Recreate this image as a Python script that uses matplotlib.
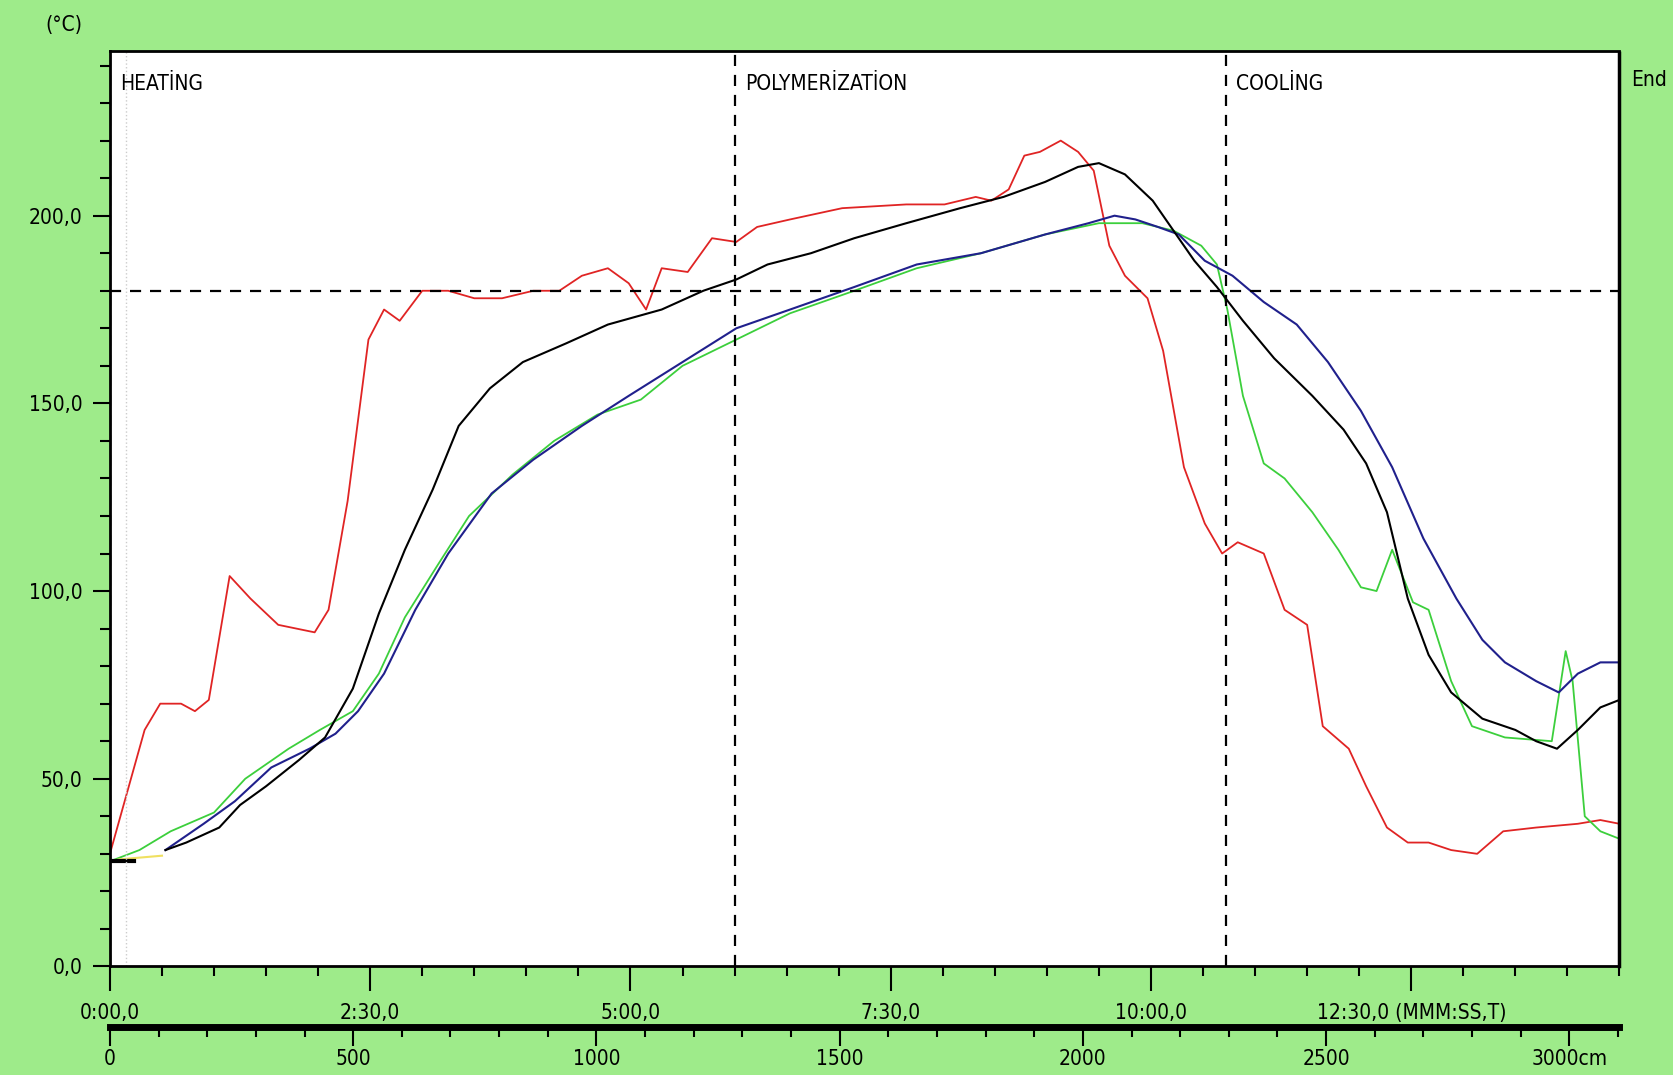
import matplotlib
matplotlib.use("Agg")
import matplotlib.pyplot as plt
from matplotlib.ticker import MultipleLocator, FixedLocator

plt.rcParams['font.family'] = ['Liberation Sans Narrow', 'DejaVu Sans']
plt.rcParams['font.stretch'] = 'condensed'

# time in seconds, temperature in deg C
red_t = [0, 20, 29, 41, 49, 57, 69, 81, 97, 118, 126, 137, 149, 158, 167, 180, 195, 210,
         226, 244, 259, 272, 287, 299, 309, 318, 333, 347, 361, 373, 392, 422, 459, 481,
         499, 508, 518, 527, 536, 548, 558, 567, 576, 585, 598, 607, 619, 631, 641, 650,
         665, 677, 690, 699, 714, 724, 736, 748, 760, 773, 788, 803, 822, 846, 859, 870]
red_T = [30, 63, 70, 70, 68, 71, 104, 98, 91, 89, 95, 124, 167, 175, 172, 180, 180, 178,
         178, 180, 180, 184, 186, 182, 175, 186, 185, 194, 193, 197, 199, 202, 203, 203,
         205, 204, 207, 216, 217, 220, 217, 212, 192, 184, 178, 164, 133, 118, 110, 113,
         110, 95, 91, 64, 58, 48, 37, 33, 33, 31, 30, 36, 37, 38, 39, 38]

black_t = [32, 44, 63, 75, 90, 109, 124, 140, 155, 170, 186, 201, 219, 238, 263, 287, 318,
           342, 361, 379, 404, 429, 459, 490, 515, 539, 558, 570, 585, 601, 613, 625, 638,
           653, 671, 693, 711, 724, 736, 748, 760, 773, 791, 810, 822, 834, 846, 859, 870]
black_T = [31, 33, 37, 43, 48, 55, 61, 74, 94, 111, 127, 144, 154, 161, 166, 171, 175,
           180, 183, 187, 190, 194, 198, 202, 205, 209, 213, 214, 211, 204, 196, 188, 181,
           172, 162, 152, 143, 134, 121, 98, 83, 73, 66, 63, 60, 58, 63, 69, 71]

blue_t = [32, 54, 72, 93, 115, 130, 143, 158, 176, 195, 220, 244, 272, 299, 330, 361, 392,
          429, 465, 502, 539, 564, 579, 591, 604, 616, 631, 647, 665, 684, 702, 721, 739,
          757, 776, 791, 804, 822, 835, 846, 859, 870]
blue_T = [31, 38, 44, 53, 58, 62, 68, 78, 95, 110, 126, 135, 144, 152, 161, 170, 175,
          181, 187, 190, 195, 198, 200, 199, 197, 195, 188, 184, 177, 171, 161, 148, 133,
          114, 98, 87, 81, 76, 73, 78, 81, 81]

green_t = [0, 17, 35, 60, 78, 103, 121, 140, 155, 170, 189, 207, 232, 256, 281, 306, 330,
           361, 392, 429, 465, 502, 539, 570, 595, 613, 629, 638, 644, 653, 665, 677, 693,
           708, 721, 730, 739, 751, 760, 773, 785, 804, 831, 839, 843, 850, 859, 870]
green_T = [28, 31, 36, 41, 50, 58, 63, 68, 78, 93, 107, 120, 131, 140, 147, 151, 160,
           167, 174, 180, 186, 190, 195, 198, 198, 196, 192, 187, 175, 152, 134, 130, 121,
           111, 101, 100, 111, 97, 95, 76, 64, 61, 60, 84, 76, 40, 36, 34]

start_t = [2, 14]
start_T = [28, 28]
yellow_t = [5, 30]
yellow_T = [28.5, 29.5]

phase_t = [0, 360, 643]
phase_names = ['HEATİNG', 'POLYMERİZATİON', 'COOLİNG']
set_T = 180

time_ticks = [0, 150, 300, 450, 600, 750]
time_labels = ['0:00,0', '2:30,0', '5:00,0', '7:30,0', '10:00,0', '12:30,0 (MMM:SS,T)']
y_ticks = [0, 50, 100, 150, 200]
y_labels = ['0,0', '50,0', '100,0', '150,0', '200,0']
dist_ticks = [0, 500, 1000, 1500, 2000, 2500, 3000]
dist_labels = ['0', '500', '1000', '1500', '2000', '2500', '3000cm']

bg = '#9eeb8a'
fig = plt.figure(figsize=(16.73, 10.75), dpi=100, facecolor=bg)
ax = fig.add_axes([0.0657, 0.101, 0.9023, 0.852])
ax.set_facecolor('white')

ax.plot(red_t, red_T, color='#e02424', lw=1.3)
ax.plot(green_t, green_T, color='#3ccf3c', lw=1.3)
ax.plot(blue_t, blue_T, color='#20208c', lw=1.5)
ax.plot(black_t, black_T, color='black', lw=1.5)
ax.plot(yellow_t, yellow_T, color='#f0e060', lw=1.5)
ax.plot(start_t, start_T, color='black', lw=3)

for t in phase_t:
    ax.axvline(t, color='black', ls=(0, (5, 4)), lw=1.6)
ax.axhline(set_T, color='black', ls=(0, (5, 4)), lw=1.6)
ax.axvline(9, color='#cccccc', ls=':', lw=1)
for t, name in zip(phase_t, phase_names):
    ax.text(t + 6, 235, name, fontsize=15, va='center', ha='left')

ax.set_xlim(0, 870)
ax.set_ylim(0, 244)

for s in ['top', 'bottom', 'left']:
    ax.spines[s].set_linewidth(2)
ax.spines['right'].set_linestyle((0, (2, 1)))
ax.spines['right'].set_linewidth(2.5)

ax.xaxis.set_major_locator(FixedLocator(time_ticks))
ax.set_xticklabels(time_labels)
ax.xaxis.set_minor_locator(MultipleLocator(30))
ax.yaxis.set_major_locator(FixedLocator(y_ticks))
ax.set_yticklabels(y_labels)
ax.yaxis.set_minor_locator(MultipleLocator(10))
ax.tick_params(axis='both', which='major', length=12, width=1.5, labelsize=15, pad=8)
ax.tick_params(axis='both', which='minor', length=7, width=1.5)
ax.tick_params(axis='x', which='major', length=18)

fig.text(0.027, 0.977, '(°C)', fontsize=15, va='center')
fig.text(0.975, 0.926, 'End', fontsize=15, va='center')

# distance scale under the time axis
ax2 = fig.add_axes([0.0657, 0.044, 0.9023, 0.001])
ax2.set_xlim(0, 3103)
ax2.set_ylim(0, 1)
ax2.set_yticks([])
for s in ['top', 'left', 'right']:
    ax2.spines[s].set_visible(False)
ax2.spines['bottom'].set_linewidth(5)
ax2.spines['bottom'].set_position(('axes', 1))
ax2.xaxis.set_major_locator(FixedLocator(dist_ticks))
ax2.set_xticklabels(dist_labels)
ax2.xaxis.set_minor_locator(MultipleLocator(100))
ax2.tick_params(axis='x', which='major', length=14, width=1.5, labelsize=15, pad=2)
ax2.tick_params(axis='x', which='minor', length=7, width=1.5)
ax2.set_facecolor(bg)

fig.savefig('out.png', dpi=100, facecolor=bg)
